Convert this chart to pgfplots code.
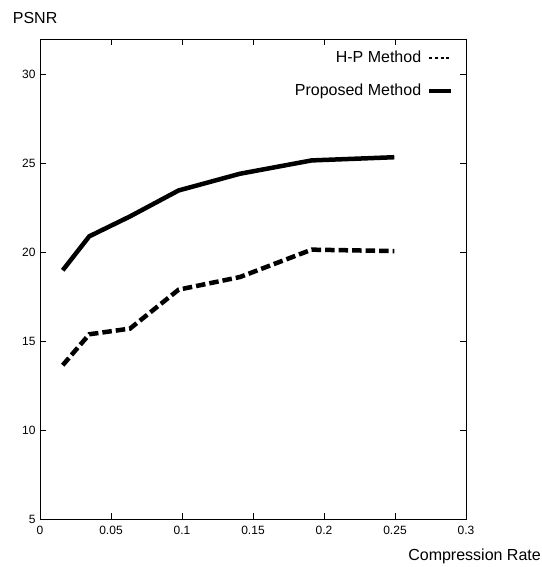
\documentclass[border=0pt]{standalone}
\usepackage{fontspec}
\setmainfont{Liberation Sans}
\usepackage{pgfplots}
\pgfplotsset{compat=1.18}

\begin{document}
\begin{tikzpicture}
\useasboundingbox (-40pt,-48pt) rectangle (501pt,519pt);
\begin{axis}[
    at={(0pt,0pt)}, anchor=south west,
    scale only axis,
    width=426pt, height=480pt,
    xmin=0, xmax=0.3,
    ymin=5, ymax=32,
    xtick={0,0.05,0.1,0.15,0.2,0.25,0.3},
    ytick={5,10,15,20,25,30},
    scaled ticks=false,
    xticklabel style={/pgf/number format/fixed, /pgf/number format/precision=2, yshift=-4pt},
    /pgf/number format/assume math mode=true,
    tick label style={font=\fontsize{12}{14}\selectfont},
    tick align=inside,
    major tick length=5.7pt,
    tick style={black, line width=0.8pt},
    axis line style={black, line width=0.8pt},
    xtick pos=both, ytick pos=both,
    xticklabel pos=lower, yticklabel pos=left,
    yticklabel style={xshift=-1pt},
    legend style={at={(1,1)}, anchor=north east, xshift=-10pt, yshift=-8pt,
        draw=none, fill=none, font=\fontsize{16}{19}\selectfont,
        row sep=16pt, column sep=4pt},
    legend plot pos=right,
    legend cell align=right,
    legend image code/.code={\draw[#1] (0pt,0pt) -- (22pt,0pt);},
]
\addlegendimage{black, line width=2.4pt, dash pattern=on 3pt off 2.8pt}
\addlegendentry{H-P Method}
\addlegendimage{black, line width=3.6pt}
\addlegendentry{Proposed Method}

% H-P Method
\addplot[black, line width=4.5pt, dash pattern=on 9.5pt off 4pt, forget plot] coordinates {
    (0.016,13.65) (0.0347,15.39) (0.0634,15.71) (0.0976,17.9)
    (0.1408,18.61) (0.1913,20.15) (0.2495,20.07)
};
% Proposed Method
\addplot[black, line width=4.5pt, forget plot] coordinates {
    (0.016,18.99) (0.0347,20.9) (0.0634,22.02) (0.0976,23.48)
    (0.1408,24.42) (0.1913,25.17) (0.2495,25.35)
};
\end{axis}
\node[anchor=west, font=\fontsize{16}{19}\selectfont, inner sep=0pt] at (-27.3pt,500.7pt) {PSNR};
\node[anchor=east, font=\fontsize{16}{19}\selectfont, inner sep=0pt] at (501pt,-37pt) {Compression Rate};
\end{tikzpicture}
\end{document}
